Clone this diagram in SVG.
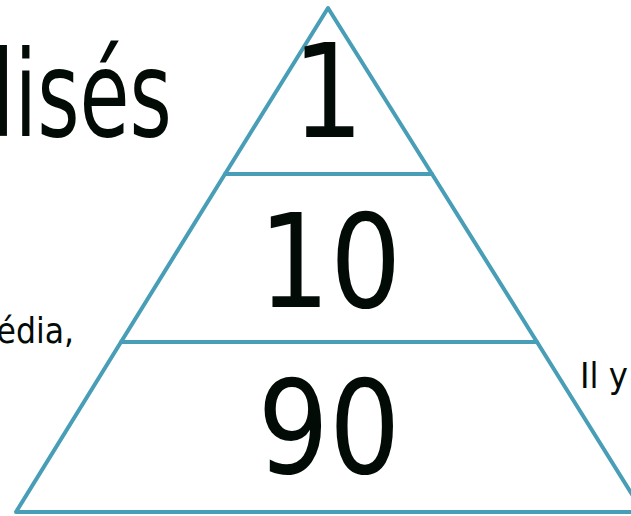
<svg xmlns="http://www.w3.org/2000/svg" width="631" height="516" viewBox="0 0 631 516">
<style>
.tier{fill:none;stroke:#479eb6;stroke-width:4;stroke-linejoin:round}
.t{font-family:"DejaVu Sans Condensed","DejaVu Sans",sans-serif;fill:#020b06}
.num{font-size:130px;text-anchor:middle}
</style>
<rect width="631" height="516" fill="#ffffff"/>
<text class="t" x="-8" y="136" font-size="120" textLength="180" lengthAdjust="spacingAndGlyphs">lisés</text>
<text class="t" x="74" y="343" font-size="35" text-anchor="end">édia,</text>
<text class="t" x="580" y="388" font-size="36">Il y</text>
<g id="connectors"></g>
<g id="tier-top">
<polygon class="tier" points="328,8 432,174 225,174"/>
<text class="t num" transform="translate(328,137) scale(0.96,1)">1</text>
</g>
<g id="tier-middle">
<polygon class="tier" points="225,174 432,174 537,342 121,342"/>
<text class="t num" transform="translate(330,307) scale(0.96,1)">10</text>
</g>
<g id="tier-bottom">
<polygon class="tier" points="121,342 537,342 643,512 16,512"/>
<text class="t num" transform="translate(329,473) scale(0.96,1)">90</text>
</g>
</svg>
